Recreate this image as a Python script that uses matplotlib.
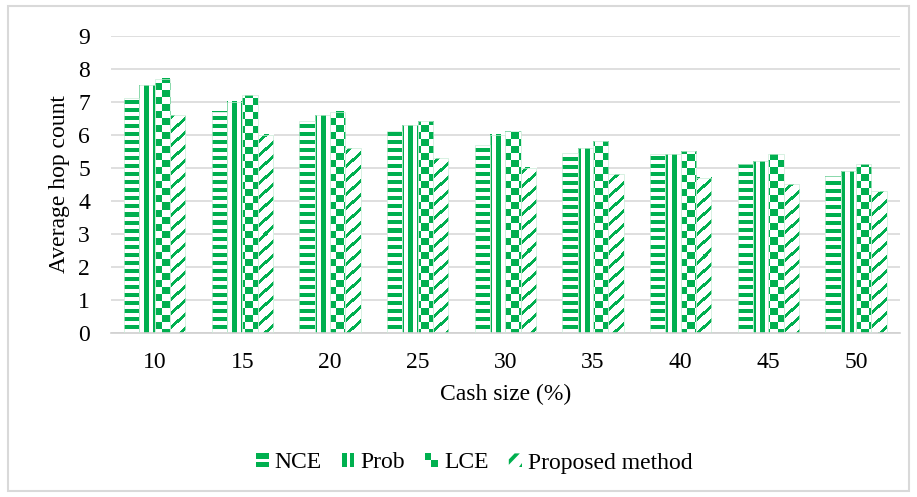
import numpy as np
import matplotlib
matplotlib.use('Agg')
import matplotlib.pyplot as plt
from matplotlib.patches import Rectangle, Polygon
from matplotlib.legend_handler import HandlerBase

plt.rcParams['font.family'] = ['Liberation Serif', 'DejaVu Serif']

cash_size = ['10', '15', '20', '25', '30', '35', '40', '45', '50']
nce = [7.1, 6.7, 6.4, 6.1, 5.7, 5.45, 5.4, 5.1, 4.75]
prob = [7.5, 7.0, 6.6, 6.3, 6.0, 5.6, 5.4, 5.2, 4.9]
lce = [7.7, 7.2, 6.7, 6.4, 6.1, 5.8, 5.5, 5.4, 5.1]
proposed = [6.6, 6.0, 5.6, 5.3, 5.0, 4.8, 4.7, 4.5, 4.3]

series = [('NCE', nce, 'hstripe'),
          ('Prob', prob, 'vstripe'),
          ('LCE', lce, 'checker'),
          ('Proposed method', proposed, 'diag')]

GREEN = np.array([0.0, 0.69, 0.31, 1.0])   # #00B050
WHITE = np.array([1.0, 1.0, 1.0, 1.0])


def pattern_mask(kind, X, Y):
    # X, Y are absolute figure pixel coordinates (Y grows upward)
    if kind == 'hstripe':
        return (Y // 4) % 2 == 0
    if kind == 'vstripe':
        return (X // 4) % 2 == 0
    if kind == 'checker':
        return (X // 7 + Y // 7) % 2 == 0
    return (X - Y) % 14 < 4


def fill_bars(ax, bars, kind):
    for b in bars:
        x0, y0, w, h = b.get_x(), b.get_y(), b.get_width(), b.get_height()
        (px0, py0), (px1, py1) = ax.transData.transform([(x0, y0), (x0 + w, y0 + h)])
        nx = max(int(round(px1 - px0)), 1)
        ny = max(int(round(py1 - py0)), 1)
        xs = int(np.floor(px0)) + np.arange(nx)
        ys = int(np.floor(py0)) + np.arange(ny)[::-1]
        X, Y = np.meshgrid(xs, ys)
        mask = pattern_mask(kind, X, Y)
        img = np.where(mask[..., None], GREEN, WHITE)
        ax.imshow(img, extent=(x0, x0 + w, y0, y0 + h), aspect='auto',
                  interpolation='nearest', zorder=2)


class PatternHandler(HandlerBase):
    def __init__(self, kind):
        super().__init__()
        self.kind = kind

    def create_artists(self, legend, orig_handle, xdescent, ydescent,
                       width, height, fontsize, trans):
        x0, y0 = -xdescent, -ydescent

        def rect(fx, fy, fw, fh):
            return Rectangle((x0 + fx * width, y0 + fy * height), fw * width, fh * height,
                             facecolor=GREEN, edgecolor='none', transform=trans)

        def poly(pts):
            return Polygon([(x0 + px * width, y0 + py * height) for px, py in pts],
                           closed=True, facecolor=GREEN, edgecolor='none', transform=trans)

        if self.kind == 'hstripe':
            return [rect(0, 0, 1, 0.38), rect(0, 0.62, 1, 0.38)]
        if self.kind == 'vstripe':
            return [rect(0, 0, 0.4, 1), rect(0.65, 0, 0.28, 1)]
        if self.kind == 'checker':
            return [rect(0, 0.5, 0.45, 0.5), rect(0.45, 0, 0.55, 0.5)]
        return [poly([(0, 0.15), (0.85, 1), (0.45, 1), (0, 0.55)]),
                poly([(0.75, 0), (1, 0), (1, 0.25)])]


fig = plt.figure(figsize=(9.17, 4.97), dpi=100)
ax = fig.add_axes([0.121, 0.3306, 0.8604, 0.5976])

x = np.arange(len(cash_size))
width = 0.175
ax.set_xlim(-0.5, len(cash_size) - 0.5)
ax.set_ylim(0, 9)
ax.set_autoscale_on(False)

for i, (name, vals, kind) in enumerate(series):
    bars = ax.bar(x + (i - 1.5) * width, vals, width, facecolor='none',
                  edgecolor='#c8ecd6', linewidth=0.5, zorder=3)
    fill_bars(ax, bars, kind)

ax.set_xlim(-0.5, len(cash_size) - 0.5)
ax.set_ylim(0, 9)

ax.set_yticks(range(10))
ax.set_xticks(x)
ax.set_xticklabels(cash_size)
ax.tick_params(axis='both', length=0, labelsize=17)
ax.tick_params(axis='y', pad=15)
ax.tick_params(axis='x', pad=14)
ax.yaxis.grid(True, color='#d9d9d9', linewidth=1.2)
ax.set_axisbelow(True)
for side in ['top', 'right', 'left']:
    ax.spines[side].set_visible(False)
ax.spines['bottom'].set_color('#d0d0d0')
ax.spines['bottom'].set_linewidth(1.2)

ax.set_xlabel('Cash size (%)', fontsize=17, labelpad=8)
ax.set_ylabel('Average hop count', fontsize=17, labelpad=6)

handles = [Rectangle((0, 0), 1, 1) for _ in series]
fig.legend(handles, [s[0] for s in series], loc='center',
           bbox_to_anchor=(474 / 917, 1 - 463 / 497), ncol=4, frameon=False,
           fontsize=17, handlelength=0.55, handleheight=0.5, handletextpad=0.25,
           columnspacing=0.85,
           handler_map={h: PatternHandler(s[2]) for h, s in zip(handles, series)})

# chart area border
fig.patches.append(Rectangle((8 / 917, 6 / 497), 901 / 917, 485 / 497,
                             transform=fig.transFigure, fill=False,
                             edgecolor='#d9d9d9', linewidth=1.5))

fig.savefig('out.png', dpi=100)
